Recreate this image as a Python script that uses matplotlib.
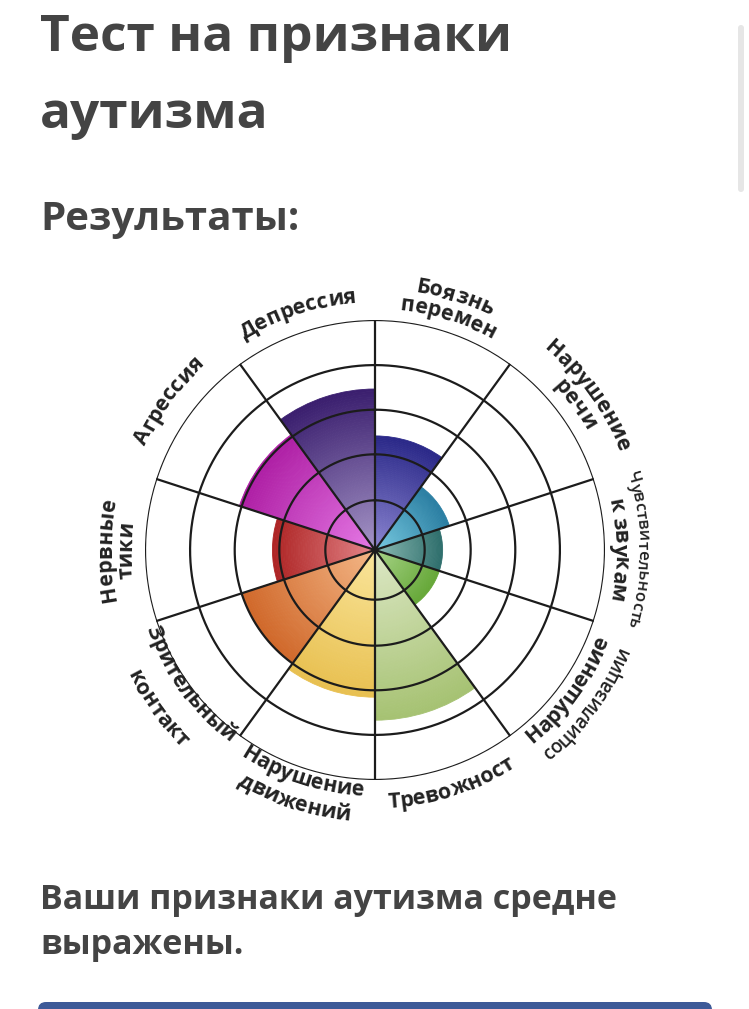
import numpy as np
import matplotlib
matplotlib.use("Agg")
import matplotlib.pyplot as plt
from matplotlib.colors import to_rgb
from matplotlib.font_manager import FontProperties
from matplotlib.patches import FancyBboxPatch

# sectors, clockwise from 12 o'clock
categories = ["Боязнь перемен", "Нарушение речи", "Чувствительность к звукам",
              "Нарушение социализации", "Тревожност", "Нарушение движений",
              "Зрительный контакт", "Нервные тики", "Агрессия", "Депрессия"]
label_lines = [["Боязнь", "перемен"], ["Нарушение", "речи"],
               ["Чувствительность", "к звукам"], ["Нарушение", "социализации"],
               ["Тревожност"], ["Нарушение", "движений"],
               ["Зрительный", "контакт"], ["Нервные", "тики"],
               ["Агрессия"], ["Депрессия"]]
values = [2.48, 1.7, 1.47, 1.47, 3.7, 3.2, 3.05, 2.23, 3.1, 3.5]
inner_colors = ["#8c86d2", "#78cbe2", "#8cbcb4", "#a8d488", "#dde8c6",
                "#fae69c", "#f4b888", "#e4868a", "#e67ae6", "#a696c8"]
outer_colors = ["#2a2888", "#2a7ea2", "#2e6e6c", "#66a838", "#a6c272",
                "#e8c050", "#d0682a", "#ae2424", "#ae1ea4", "#3a1e6e"]
rings = [1.08, 2.08, 3.05, 4.02, 5.0]

W, H = 749, 1009
CX, CY, R = 375, 550, 230
PX = R / 5.0  # pixels per unit

fig = plt.figure(figsize=(W / 100, H / 100), dpi=100)
bg = fig.add_axes([0, 0, 1, 1])
bg.set_xlim(0, W)
bg.set_ylim(H, 0)
bg.axis("off")

head = dict(family="Open Sans", fontweight="bold", color="#444444", va="baseline")
bg.text(40, 51, "Тест на признаки", fontsize=37, **head)
bg.text(40, 128, "аутизма", fontsize=37, **head)
bg.text(40, 230, "Результаты:", fontsize=29, **head)
bg.text(40, 909, "Ваши признаки аутизма средне", fontsize=24.5, **head)
bg.text(40, 954, "выражены.", fontsize=24.5, **head)

bg.add_patch(FancyBboxPatch((38, 1002), 674, 30, boxstyle="round,pad=0,rounding_size=8",
                            color="#3d5a98", lw=0))
bg.add_patch(FancyBboxPatch((738, 25), 6, 167, boxstyle="round,pad=0,rounding_size=3",
                            color="#e6e6e6", lw=0))

ax = fig.add_axes([(CX - R) / W, (H - CY - R) / H, 2 * R / W, 2 * R / H], projection="polar")
ax.set_theta_zero_location("N")
ax.set_theta_direction(-1)
ax.set_ylim(0, 5)
ax.set_axis_off()

n = len(values)
wid = 2 * np.pi / n
centers = (np.arange(n) + 0.5) * wid
steps = 60
for i, v in enumerate(values):
    c0 = np.array(to_rgb(inner_colors[i]))
    c1 = np.array(to_rgb(outer_colors[i]))
    edges = np.linspace(0, v, steps + 1)
    for k in range(steps):
        t = (k + 0.5) / steps
        col = c0 + (c1 - c0) * t
        ax.bar(centers[i], edges[k + 1] - edges[k], width=wid, bottom=edges[k],
               color=col, edgecolor=col, linewidth=0.6, zorder=1)

th = np.linspace(0, 2 * np.pi, 500)
for rr in rings:
    ax.plot(th, np.full_like(th, rr), color="#1c1c1c", lw=1.6, zorder=3)
for k in range(n):
    ax.plot([k * wid, k * wid], [0, 5], color="#1c1c1c", lw=1.6, zorder=3)

renderer = fig.canvas.get_renderer()


def tw(s, fp):
    # advance width in pixels, keeps trailing spaces
    a = renderer.get_text_width_height_descent(s + "|", fp, ismath=False)[0]
    b = renderer.get_text_width_height_descent("|", fp, ismath=False)[0]
    return a - b


def curved(s, ang, rad, fp, upper):
    total = tw(s, fp)
    for i, ch in enumerate(s):
        if ch == " ":
            continue
        mid = (tw(s[:i], fp) + tw(s[:i + 1], fp)) / 2 - total / 2
        d = np.degrees(mid / rad)
        if upper:
            a = ang + d
            rot = -a
        else:
            a = ang - d
            rot = 180 - a
        ax.text(np.radians(a), rad / PX, ch, rotation=rot, rotation_mode="anchor",
                ha="center", va="baseline", fontproperties=fp, color="#222222",
                clip_on=False, zorder=5)


big = FontProperties(family="Open Sans", weight="bold", size=15.5)
small = FontProperties(family="Open Sans", weight="semibold", size=12)
mid = FontProperties(family="Open Sans", weight="semibold", size=13.5)

# (angle, [baseline radius per line], upper half?, fonts)
layout = [
    (17.5, [261, 241], True, [big, big]),
    (54, [263, 242], True, [big, big]),
    (90, [263, 239], True, [small, big]),
    (126, [250, 274], False, [big, mid]),
    (162, [258], False, [big]),
    (198, [246, 272], False, [big, big]),
    (234, [242, 277], False, [big, big]),
    (270, [264, 244], True, [big, big]),
    (306, [252], True, [big]),
    (342, [248], True, [big]),
]
for lines, (ang, rads, upper, fps) in zip(label_lines, layout):
    for s, rad, fp in zip(lines, rads, fps):
        curved(s, ang, rad, fp, upper)

fig.savefig("out.png", dpi=100)
